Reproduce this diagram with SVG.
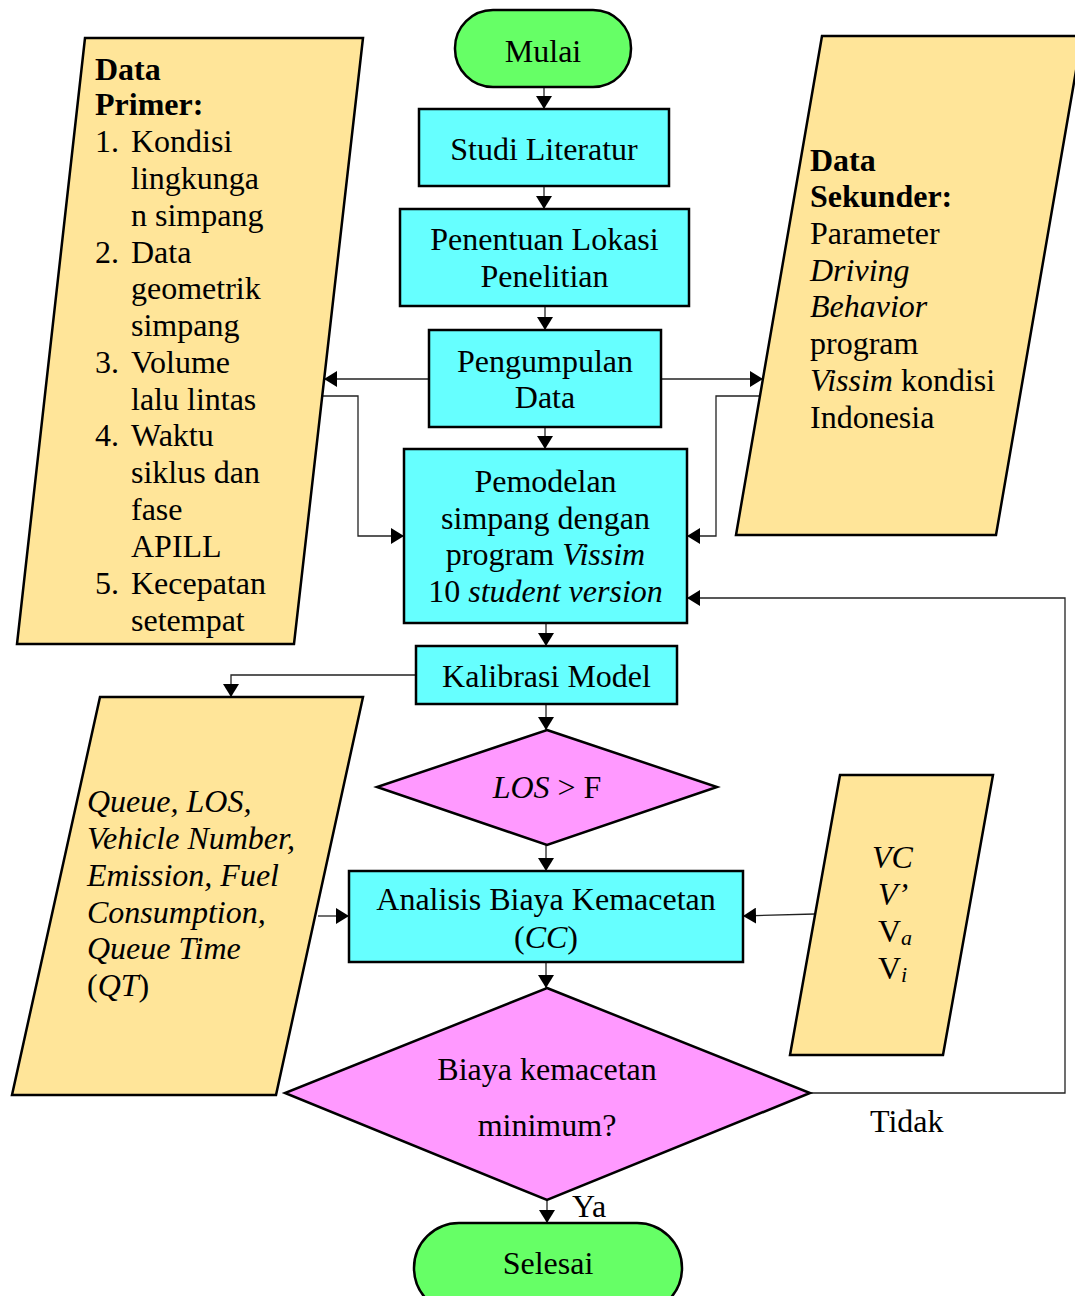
<svg xmlns="http://www.w3.org/2000/svg" width="1075" height="1296" viewBox="0 0 1075 1296">
<style>
  text { font-family: "Liberation Serif", "Times New Roman", serif; font-size: 32px; fill: #000; }
  .c { text-anchor: middle; }
  .b { font-weight: bold; }
  .i { font-style: italic; }
  .box { fill: #66FFFF; stroke: #000; stroke-width: 2.5; }
  .term { fill: #66FF66; stroke: #000; stroke-width: 2.5; }
  .dec { fill: #FF99FF; stroke: #000; stroke-width: 2.5; }
  .io { fill: #FFE599; stroke: #000; stroke-width: 2.5; }
  .ln { fill: none; stroke: #222; stroke-width: 1.3; }
  .sub { font-style: italic; font-size: 22px; }
</style>
<defs>
  <marker id="ah" viewBox="0 0 13 16" refX="13" refY="8" markerWidth="13" markerHeight="16" markerUnits="userSpaceOnUse" orient="auto">
    <path d="M0,0 L13,8 L0,16 Z" fill="#000"/>
  </marker>
</defs>

<g id="connectors">
  <line class="ln" x1="544" y1="87" x2="544" y2="109" marker-end="url(#ah)"/>
  <line class="ln" x1="544" y1="186" x2="544" y2="209" marker-end="url(#ah)"/>
  <line class="ln" x1="545" y1="306" x2="545" y2="330" marker-end="url(#ah)"/>
  <line class="ln" x1="545" y1="427" x2="545" y2="449" marker-end="url(#ah)"/>
  <line class="ln" x1="546" y1="623" x2="546" y2="646" marker-end="url(#ah)"/>
  <line class="ln" x1="546" y1="704" x2="546" y2="730" marker-end="url(#ah)"/>
  <line class="ln" x1="546" y1="845" x2="546" y2="871" marker-end="url(#ah)"/>
  <line class="ln" x1="546" y1="962" x2="546" y2="988" marker-end="url(#ah)"/>
  <line class="ln" x1="547" y1="1200" x2="547" y2="1223" marker-end="url(#ah)"/>
  <line class="ln" x1="429" y1="379" x2="324" y2="379" marker-end="url(#ah)"/>
  <line class="ln" x1="661" y1="379" x2="763" y2="379" marker-end="url(#ah)"/>
  <polyline class="ln" points="322,396 358,396 358,536 404,536" marker-end="url(#ah)"/>
  <polyline class="ln" points="763,396 716,396 716,536 687,536" marker-end="url(#ah)"/>
  <polyline class="ln" points="810,1093 1065,1093 1065,598 687,598" marker-end="url(#ah)"/>
  <polyline class="ln" points="416,675 231,675 231,697" marker-end="url(#ah)"/>
  <line class="ln" x1="318" y1="916" x2="349" y2="916" marker-end="url(#ah)"/>
  <line class="ln" x1="815" y1="914" x2="743" y2="916" marker-end="url(#ah)"/>
</g>

<g id="mulai">
  <rect class="term" x="455" y="10" width="176" height="77" rx="38" ry="38"/>
  <text class="c" x="543" y="62">Mulai</text>
</g>

<g id="studi">
  <rect class="box" x="419" y="109" width="250" height="77"/>
  <text class="c" x="544" y="160">Studi Literatur</text>
</g>

<g id="penentuan">
  <rect class="box" x="400" y="209" width="289" height="97"/>
  <text class="c" x="544.5" y="250">Penentuan Lokasi</text>
  <text class="c" x="544.5" y="287">Penelitian</text>
</g>

<g id="pengumpulan">
  <rect class="box" x="429" y="330" width="232" height="97"/>
  <text class="c" x="545" y="372">Pengumpulan</text>
  <text class="c" x="545" y="408">Data</text>
</g>

<g id="pemodelan">
  <rect class="box" x="404" y="449" width="283" height="174"/>
  <text class="c" x="545.5" y="492">Pemodelan</text>
  <text class="c" x="545.5" y="529">simpang dengan</text>
  <text class="c" x="545.5" y="565">program <tspan class="i">Vissim</tspan></text>
  <text class="c" x="545.5" y="602">10 <tspan class="i">student version</tspan></text>
</g>

<g id="kalibrasi">
  <rect class="box" x="416" y="646" width="261" height="58"/>
  <text class="c" x="546.5" y="687">Kalibrasi Model</text>
</g>

<g id="los">
  <polygon class="dec" points="547,730 717,787 547,845 377,787"/>
  <text class="c" x="547" y="798"><tspan class="i">LOS</tspan> &gt; F</text>
</g>

<g id="analisis">
  <rect class="box" x="349" y="871" width="394" height="91"/>
  <text class="c" x="546" y="910">Analisis Biaya Kemacetan</text>
  <text class="c" x="546" y="948">(<tspan class="i">CC</tspan>)</text>
</g>

<g id="biaya">
  <polygon class="dec" points="547,988 810,1093 547,1200 285,1093"/>
  <text class="c" x="547" y="1080">Biaya kemacetan</text>
  <text class="c" x="547" y="1136">minimum?</text>
</g>

<g id="selesai">
  <rect class="term" x="414" y="1223" width="268" height="90" rx="45" ry="45"/>
  <text class="c" x="548" y="1274">Selesai</text>
</g>

<g id="labels">
  <text x="870" y="1132">Tidak</text>
  <text x="572" y="1217">Ya</text>
</g>

<g id="data-primer">
  <polygon class="io" points="85,38 363,38 294,644 17,644"/>
  <text class="b" x="95" y="80">Data</text>
  <text class="b" x="95" y="115">Primer:</text>
  <text x="95" y="152">1.</text><text x="131" y="152">Kondisi</text>
  <text x="131" y="189">lingkunga</text>
  <text x="131" y="226">n simpang</text>
  <text x="95" y="263">2.</text><text x="131" y="263">Data</text>
  <text x="131" y="299">geometrik</text>
  <text x="131" y="336">simpang</text>
  <text x="95" y="373">3.</text><text x="131" y="373">Volume</text>
  <text x="131" y="410">lalu lintas</text>
  <text x="95" y="446">4.</text><text x="131" y="446">Waktu</text>
  <text x="131" y="483">siklus dan</text>
  <text x="131" y="520">fase</text>
  <text x="131" y="557">APILL</text>
  <text x="95" y="594">5.</text><text x="131" y="594">Kecepatan</text>
  <text x="131" y="631">setempat</text>
</g>

<g id="data-sekunder">
  <polygon class="io" points="822,36 1082,36 996,535 736,535"/>
  <text class="b" x="810" y="171">Data</text>
  <text class="b" x="810" y="207">Sekunder:</text>
  <text x="810" y="244">Parameter</text>
  <text class="i" x="810" y="281">Driving</text>
  <text class="i" x="810" y="317">Behavior</text>
  <text x="810" y="354">program</text>
  <text x="810" y="391"><tspan class="i">Vissim</tspan> kondisi</text>
  <text x="810" y="428">Indonesia</text>
</g>

<g id="output">
  <polygon class="io" points="100,697 363,697 276,1095 12,1095"/>
  <text class="i" x="87" y="812">Queue, LOS,</text>
  <text class="i" x="87" y="849">Vehicle Number,</text>
  <text class="i" x="87" y="886">Emission, Fuel</text>
  <text class="i" x="87" y="923">Consumption,</text>
  <text class="i" x="87" y="959">Queue Time</text>
  <text x="87" y="996">(<tspan class="i">QT</tspan>)</text>
</g>

<g id="variabel">
  <polygon class="io" points="840,775 993,775 943,1055 790,1055"/>
  <text class="i" x="872" y="868">VC</text>
  <text class="i" x="878" y="905">V’</text>
  <text x="878" y="942">V<tspan class="sub" dy="3">a</tspan></text>
  <text x="878" y="979">V<tspan class="sub" dy="3">i</tspan></text>
</g>
</svg>
